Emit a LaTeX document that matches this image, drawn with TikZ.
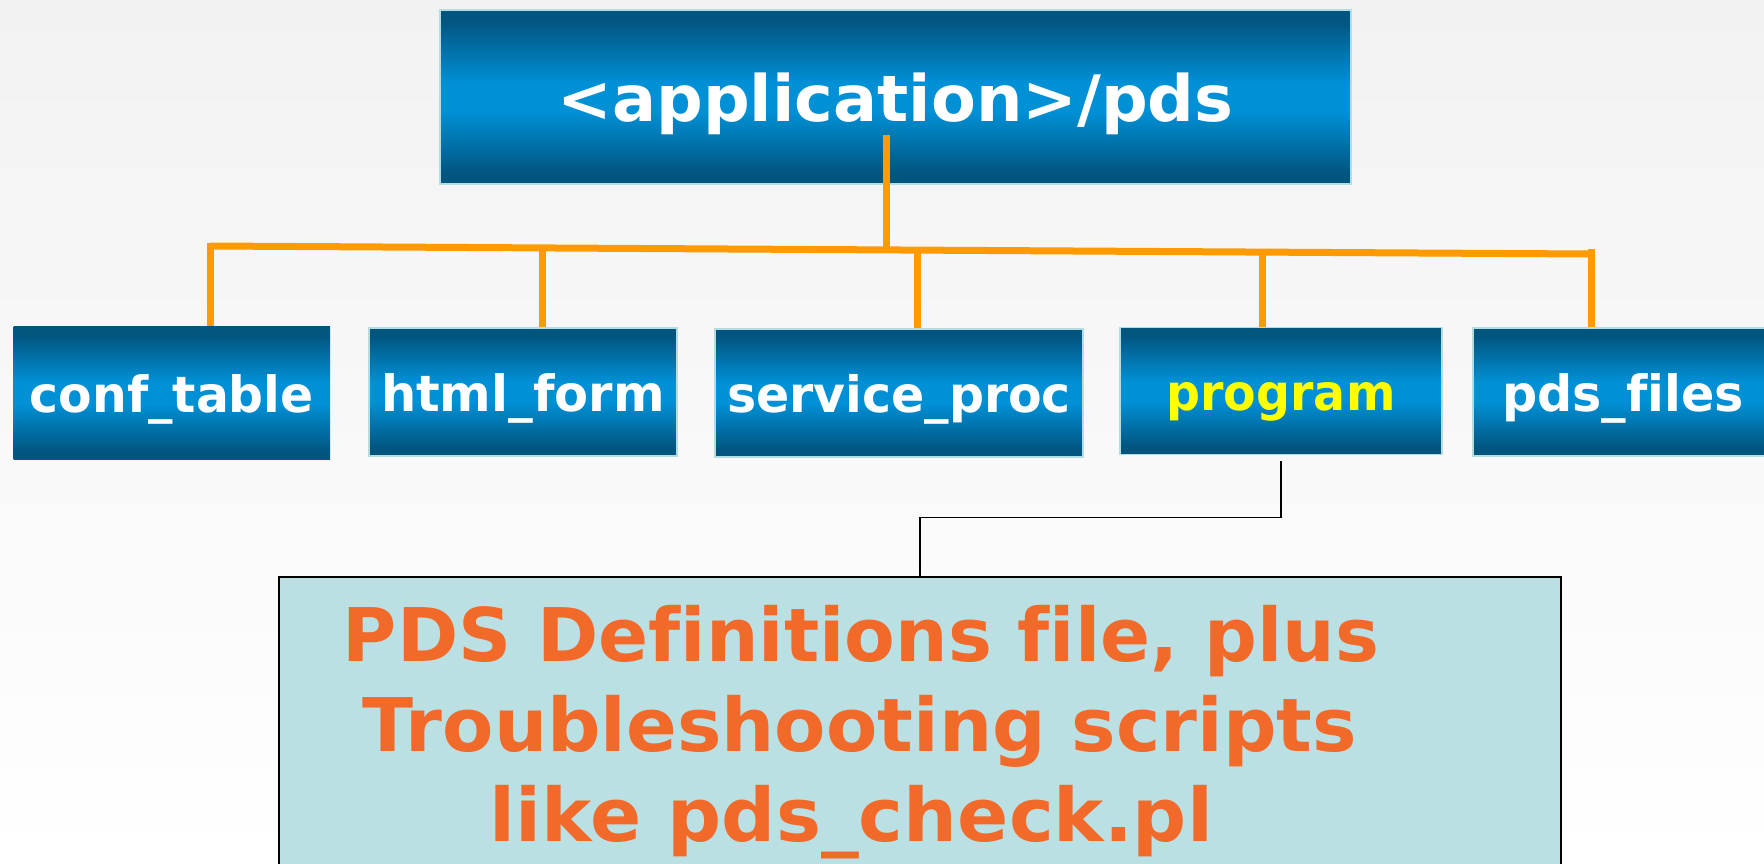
\documentclass[tikz,border=0pt]{standalone}
\usepackage{fontspec}
\setmainfont{DejaVu Sans}[Ligatures=CommonOff]
\usepackage{graphicx}
\definecolor{bgtop}{HTML}{F2F2F2}
\definecolor{bxdark}{HTML}{02557F}
\definecolor{bxbright}{HTML}{0090D6}
\definecolor{boxedge}{HTML}{B4DDE2}
\definecolor{busorange}{HTML}{FF9A00}
\definecolor{deffill}{HTML}{BBE0E3}
\definecolor{deftext}{HTML}{F26A2A}
\definecolor{progyellow}{HTML}{FFFF00}
\pgfdeclareverticalshading{boxshade}{100bp}{color(0bp)=(bxdark); color(28bp)=(bxdark); color(46bp)=(bxbright); color(54bp)=(bxbright); color(72bp)=(bxdark); color(100bp)=(bxdark)}
\newcommand\fitw[2]{\resizebox{#1pt}{\height}{#2}}
\begin{document}
\begin{tikzpicture}[x=1pt,y=-1pt,
  dirbox/.style={shade, shading=boxshade, draw=boxedge, line width=1.5pt, inner sep=0pt, text=white, font=\bfseries\fontsize{50pt}{60pt}\selectfont, text height=38pt, text depth=0pt},
  bus/.style={draw=busorange, line width=7pt},
  link/.style={draw=black, line width=1.5pt},
  defbox/.style={fill=deffill, draw=black, line width=2pt, inner sep=0pt},
  deftxt/.style={text=deftext, font=\bfseries\fontsize{74pt}{90pt}\selectfont, inner sep=0pt, anchor=base}]
\useasboundingbox (0,0) rectangle (1764,864);
\clip (0,0) rectangle (1764,864);
\fill[top color=bgtop, bottom color=white] (0,0) rectangle (1764,864);
% top box
\node[dirbox, minimum width=911pt, minimum height=174pt, font=\bfseries\fontsize{64pt}{70pt}\selectfont, text height=49pt] (top) at (895.5,97) {\fitw{676}{<application>/pds}};
% child boxes
\node[dirbox, draw=none, minimum width=316.5pt, minimum height=133pt] (conf) at (171.75,393) {\fitw{284}{conf\_table}};
\node[dirbox, minimum width=308pt, minimum height=128pt] (html) at (523,392) {\fitw{284}{html\_form}};
\node[dirbox, minimum width=368pt, minimum height=128pt] (serv) at (899,393) {\fitw{344}{service\_proc}};
\node[dirbox, minimum width=322pt, minimum height=127pt, text=progyellow] (prog) at (1281,391) {\fitw{229}{program}};
\node[dirbox, minimum width=300pt, minimum height=128pt] (pds) at (1623,392) {\fitw{242}{pds\_files}};
% bus
\coordinate (tstart) at (886,135);
\coordinate (hub) at (886,250);
\coordinate (b1) at (210,246);
\coordinate (b2) at (542,248);
\coordinate (b3) at (917,250);
\coordinate (b4) at (1262,252);
\coordinate (b5) at (1591,254);
\draw[bus] (tstart) -- (hub);
\draw[bus] (b1) -- (b5);
\draw[bus] ([yshift=3.5pt]b1) -- (b1 |- conf.north);
\draw[bus] ([yshift=3.5pt]b2) -- (b2 |- html.north);
\draw[bus] ([yshift=3.5pt]b3) -- (b3 |- serv.north);
\draw[bus] ([yshift=3.5pt]b4) -- (b4 |- prog.north);
\draw[bus] ([yshift=5pt]b5) -- (b5 |- pds.north);
% definition box
\node[defbox, minimum width=1282.5pt, minimum height=310pt, anchor=north] (def) at (920,576) {};
\coordinate (bend) at (920,517.5);
\draw[link] ([yshift=-6pt]prog.south) |- (bend) -- (def.north);
\node[deftxt] (d1) at (861,661.5) {\fitw{1036}{PDS Definitions file, plus}};
\node[deftxt] (d2) at (860,751.5) {\fitw{994}{Troubleshooting scripts}};
\node[deftxt] (d3) at (851.5,841.5) {\fitw{723}{like pds\_check.pl}};
\end{tikzpicture}
\end{document}
